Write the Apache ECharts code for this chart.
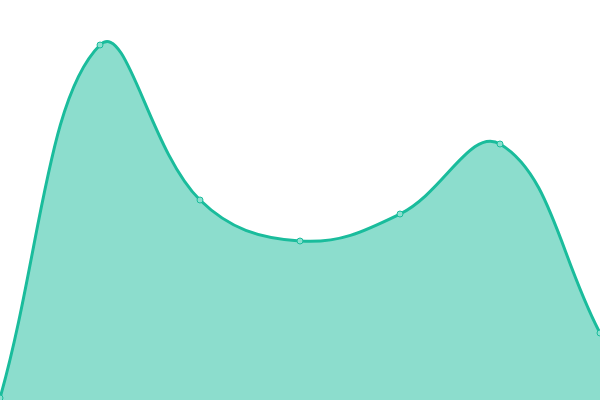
<!DOCTYPE html>
<html><head><meta charset="utf-8">
<script src="https://cdn.jsdelivr.net/npm/echarts@6/dist/echarts.min.js"></script>
<style>html,body{margin:0;padding:0;background:#fff}#c{width:600px;height:400px}</style>
</head><body><div id="c"></div>
<script>
const categories = ['A', 'B', 'C', 'D', 'E', 'F', 'G'];
const values = [2, 355, 200, 159, 186, 256, 67];
const TENSION = 0.4;
const LINE = '#1abc9c';

function controlPoints(pts) {
  const out = [];
  for (let i = 0; i < pts.length; i++) {
    const p = pts[i], prev = pts[i - 1] || p, next = pts[i + 1] || p;
    const d01 = Math.hypot(p[0] - prev[0], p[1] - prev[1]);
    const d12 = Math.hypot(next[0] - p[0], next[1] - p[1]);
    let s01 = d01 / (d01 + d12), s12 = d12 / (d01 + d12);
    if (isNaN(s01)) s01 = 0; if (isNaN(s12)) s12 = 0;
    const fa = TENSION * s01, fb = TENSION * s12;
    out.push({
      inCp: [p[0] - fa * (next[0] - prev[0]), p[1] - fa * (next[1] - prev[1])],
      outCp: [p[0] + fb * (next[0] - prev[0]), p[1] + fb * (next[1] - prev[1])]
    });
  }
  return out;
}

const chart = echarts.init(document.getElementById('c'));
chart.setOption({
  animation: false,
  grid: { left: 0, right: 0, top: 0, bottom: 0 },
  xAxis: { type: 'category', data: categories, boundaryGap: false, show: false },
  yAxis: { type: 'value', min: 0, max: 400, show: false },
  series: [{
    type: 'custom',
    clip: false,
    data: values.map((v, i) => [i, v]),
    renderItem: function (params, api) {
      const c = api.coord([api.value(0), api.value(1)]);
      const dot = { type: 'circle', shape: { cx: c[0], cy: c[1], r: 3 },
        style: { fill: '#8ae0cf', stroke: LINE, lineWidth: 1 }, z2: 10 };
      if (params.dataIndex !== 0) return dot;
      const pts = values.map((v, i) => api.coord([i, v]));
      const cps = controlPoints(pts);
      let d = 'M' + pts[0][0] + ' ' + pts[0][1];
      for (let i = 1; i < pts.length; i++) {
        const a = cps[i - 1].outCp, b = cps[i].inCp, p = pts[i];
        d += ' C' + a[0] + ' ' + a[1] + ' ' + b[0] + ' ' + b[1] + ' ' + p[0] + ' ' + p[1];
      }
      const base = api.coord([0, 0])[1];
      const last = pts[pts.length - 1];
      const area = d + ' L' + last[0] + ' ' + base + ' L' + pts[0][0] + ' ' + base + ' Z';
      return { type: 'group', children: [
        { type: 'path', shape: { pathData: area }, style: { fill: 'rgba(26,188,156,0.5)', stroke: null } },
        { type: 'path', shape: { pathData: d }, style: { fill: null, stroke: LINE, lineWidth: 3 } },
        dot
      ] };
    }
  }]
});
</script></body></html>
